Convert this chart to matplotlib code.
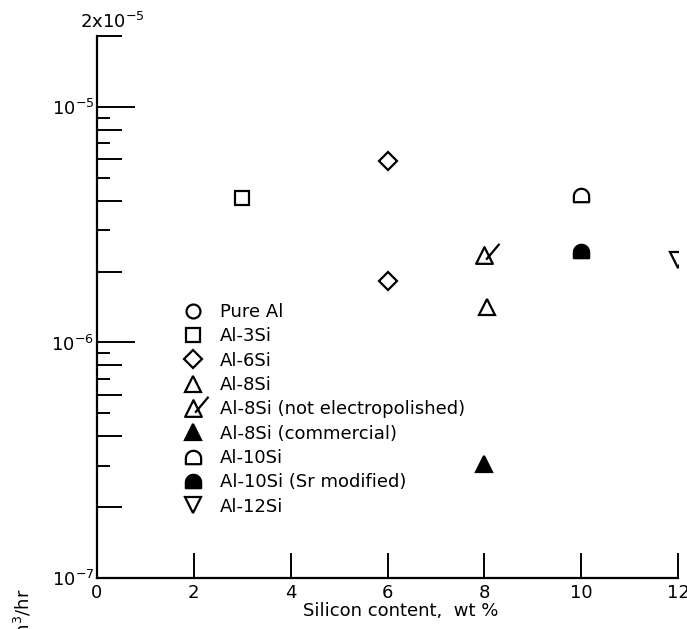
import numpy as np
import matplotlib.pyplot as plt
from matplotlib.path import Path
from matplotlib.ticker import FixedLocator, FixedFormatter, NullFormatter

plt.rcParams['font.family'] = ['DejaVu Sans']
plt.rcParams['mathtext.fontset'] = 'dejavusans'
plt.rcParams['font.size'] = 13

# wear rate data
labels = ["Pure Al", "Al-3Si", "Al-6Si", "Al-8Si", "Al-8Si (not electropolished)",
          "Al-8Si (commercial)", "Al-10Si", "Al-10Si (Sr modified)", "Al-12Si"]
si_pure, rate_pure = [], []
si_3, rate_3 = [3], [4.1e-6]
si_6, rate_6 = [6, 6], [5.9e-6, 1.82e-6]
si_8, rate_8 = [8.05], [1.41e-6]
si_8ne, rate_8ne = [8], [2.34e-6]
si_8c, rate_8c = [8], [3.05e-7]
si_10, rate_10 = [10], [4.22e-6]
si_10sr, rate_10sr = [10], [2.44e-6]
si_12, rate_12 = [12], [2.23e-6]

x_ticks = [0, 2, 4, 6, 8, 10, 12]
y_major = [1e-7, 1e-6, 1e-5]
y_labels = ["$10^{-7}$", "$10^{-6}$", "$10^{-5}$"]


# custom markers
def dome_marker():
    t = np.linspace(np.pi, 0, 25)
    verts = [(-1, -0.875), (-1, -0.125)]
    verts += [(np.cos(a), np.sin(a) - 0.125) for a in t]
    verts += [(1, -0.875), (-1, -0.875)]
    codes = [Path.MOVETO] + [Path.LINETO] * (len(verts) - 2) + [Path.CLOSEPOLY]
    return Path(verts, codes)


def tri_tick_marker():
    verts = [(-1, -1), (1, -1), (0, 1), (-1, -1), (0.2, -0.5), (1.8, 1.4)]
    codes = [Path.MOVETO, Path.LINETO, Path.LINETO, Path.CLOSEPOLY,
             Path.MOVETO, Path.LINETO]
    return Path(verts, codes)


fig = plt.figure(figsize=(6.87, 6.29), dpi=100)
ax = fig.add_axes([97 / 687, 1 - 578 / 629, 581 / 687, 542 / 629])

ms = 11
mew = 1.6
style = dict(linestyle='none', color='black', markeredgewidth=mew)
ax.plot(si_pure, rate_pure, marker='o', mfc='none', ms=ms - 1, label=labels[0], **style)
ax.plot(si_3, rate_3, marker='s', mfc='none', ms=ms - 1, label=labels[1], **style)
ax.plot(si_6, rate_6, marker='D', mfc='none', ms=ms - 2, label=labels[2], **style)
ax.plot(si_8, rate_8, marker='^', mfc='none', ms=ms + 1, label=labels[3], **style)
ax.plot(si_8ne, rate_8ne, marker=tri_tick_marker(), mfc='none', ms=(ms + 1) * 1.8,
        label=labels[4], **style)
ax.plot(si_8c, rate_8c, marker='^', mfc='black', ms=ms + 1, label=labels[5], **style)
ax.plot(si_10, rate_10, marker=dome_marker(), mfc='none', ms=ms, label=labels[6], **style)
ax.plot(si_10sr, rate_10sr, marker=dome_marker(), mfc='black', ms=ms, label=labels[7], **style)
ax.plot(si_12, rate_12, marker='v', mfc='none', ms=ms + 1, label=labels[8], **style)

ax.set_yscale('log')
ax.set_xlim(0, 12)
ax.set_ylim(1e-7, 2e-5)

for s in ['top', 'right']:
    ax.spines[s].set_visible(False)
for s in ['left', 'bottom']:
    ax.spines[s].set_linewidth(1.6)

ax.xaxis.set_major_locator(FixedLocator(x_ticks))
ax.set_xticklabels([str(v) for v in x_ticks])
ax.tick_params(axis='x', direction='in', length=18, width=1.4, pad=4)

ax.yaxis.set_major_locator(FixedLocator(y_major))
ax.yaxis.set_major_formatter(FixedFormatter(y_labels))
minor_locs = [m * 1e-7 for m in range(2, 10)] + [m * 1e-6 for m in range(2, 10)] + [2e-5]
ax.yaxis.set_minor_locator(FixedLocator(minor_locs))
ax.yaxis.set_minor_formatter(NullFormatter())
ax.tick_params(axis='y', which='major', direction='in', length=27, width=1.4, pad=2)
ax.tick_params(axis='y', which='minor', direction='in', length=18, width=1.4)
ax.tick_params(axis='x', which='minor', bottom=False)

# alternate long / short minor ticks like the original
for tick, loc in zip(ax.yaxis.get_minor_ticks(len(minor_locs)), minor_locs):
    mant = round(loc / 10 ** np.floor(np.log10(loc) + 1e-9))
    if mant % 2 == 1:
        tick.tick1line.set_markersize(9.5)

ax.annotate("2x$10^{-5}$", xy=(0, 2e-5), xytext=(11, 10), textcoords='offset points',
            ha='center', va='center')

ax.set_xlabel("Silicon content,  wt %")
ax.xaxis.set_label_coords((401 - 97) / 581, -0.044)

fig.text(23 / 687, 1 - 588 / 629, "Wear rate, mm$^3$/hr", rotation=90,
         ha='center', va='top')

ax.legend(loc='upper left', bbox_to_anchor=(182 / 687, 1 - 303 / 629),
          bbox_transform=fig.transFigure, frameon=False, borderpad=0,
          handlelength=1.2, handletextpad=0.9, labelspacing=0.35, borderaxespad=0)

fig.savefig("out.png", dpi=100)
